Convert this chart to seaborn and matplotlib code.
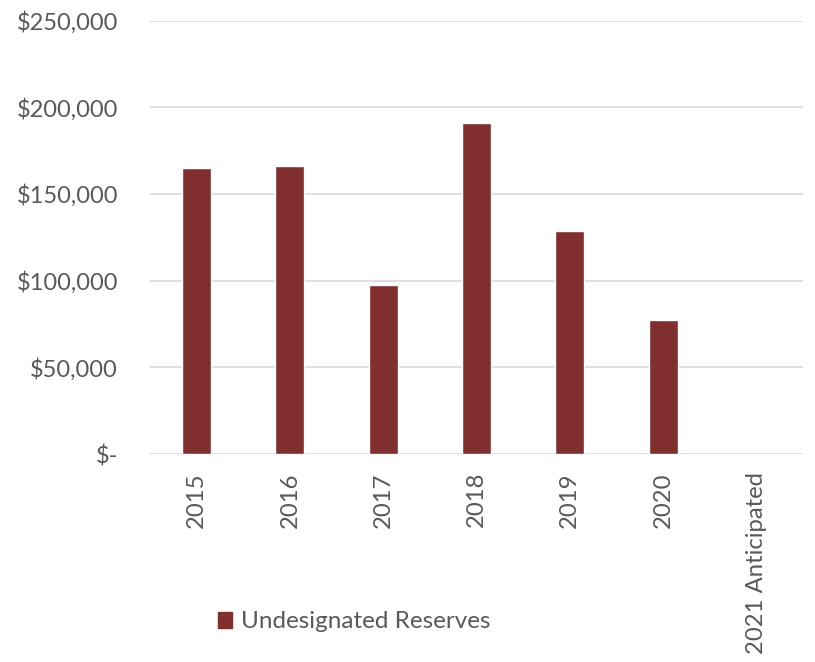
import numpy as np
import pandas as pd
import matplotlib
matplotlib.use("Agg")
import matplotlib.pyplot as plt
import seaborn as sns
from matplotlib.ticker import FuncFormatter

# Year-end undesignated reserve balances
years = ["2015", "2016", "2017", "2018", "2019", "2020", "2021 Anticipated"]
reserves = [165000, 166200, 97300, 190600, 128600, 77000, np.nan]
series_name = "Undesignated Reserves"

df = pd.DataFrame({"Year": years, "Amount": reserves, "Series": series_name})

sns.set_theme(style="white")
plt.rcParams["font.family"] = ["Lato", "DejaVu Sans"]

bar_color = "#812F2E"
text_color = "#595959"
grid_color = "#D9D9D9"

fig = plt.figure(figsize=(8.15, 6.62), dpi=100)
ax = fig.add_axes([150 / 815, 1 - 454 / 662, 653 / 815, 433.5 / 662])

sns.barplot(data=df, x="Year", y="Amount", hue="Series", palette=[bar_color],
            width=0.31, ax=ax, legend=False, saturation=1)

ax.set_ylim(0, 250000)
ax.set_xlim(-0.5, len(years) - 0.5)
ax.set_yticks(np.arange(0, 250001, 50000))


def money(v, _):
    return "$-" if v == 0 else f"${v:,.0f}"


ax.yaxis.set_major_formatter(FuncFormatter(money))
ax.grid(axis="y", color=grid_color, linewidth=1.2)
ax.set_axisbelow(True)
for s in ax.spines.values():
    s.set_visible(False)

ax.tick_params(axis="y", length=0, pad=23, labelsize=17, labelcolor=text_color)
ax.tick_params(axis="x", length=0, pad=13, labelsize=17.2, labelcolor=text_color,
               labelrotation=90)
for lab in ax.get_xticklabels():
    lab.set_verticalalignment("top")
ax.set_xlabel("")
ax.set_ylabel("")

handle = plt.Rectangle((0, 0), 1, 1, color=bar_color)
fig.legend([handle], [series_name], loc="center left",
           bbox_to_anchor=(208 / 815, 1 - 622 / 662), frameon=False,
           fontsize=17.5, labelcolor=text_color, handlelength=0.6,
           handleheight=0.6, handletextpad=0.35, borderaxespad=0)

fig.savefig("out.png", dpi=100, facecolor="white")
